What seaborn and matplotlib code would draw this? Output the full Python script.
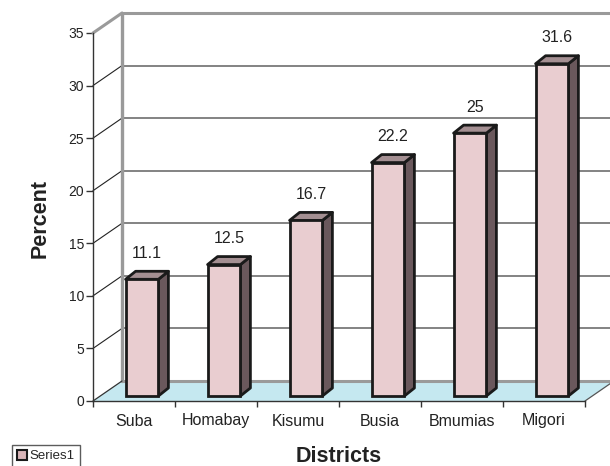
import numpy as np
import pandas as pd
import matplotlib
matplotlib.use("Agg")
import matplotlib.pyplot as plt
import matplotlib.transforms as mtransforms
from matplotlib.patches import Polygon, Patch
from matplotlib.lines import Line2D
import seaborn as sns

# ---- data ----
districts = ["Suba", "Homabay", "Kisumu", "Busia", "Bmumias", "Migori"]
percent = [11.1, 12.5, 16.7, 22.2, 25, 31.6]
yticks = [0, 5, 10, 15, 20, 25, 30, 35]
series_name = "Series1"
xlabel = "Districts"
ylabel = "Percent"

sns.set_theme(style="white")
plt.rcParams["font.family"] = ["Liberation Sans", "DejaVu Sans"]

W, H, DPI = 610, 466, 100
fig = plt.figure(figsize=(W / DPI, H / DPI), dpi=DPI)
# front plane of the 3D box
L, R, B, T = 93, 585, 401, 33
ax = fig.add_axes([L / W, 1 - B / H, (R - L) / W, (B - T) / H])

df = pd.DataFrame({"District": districts, "Percent": percent})
sns.barplot(data=df, x="District", y="Percent", ax=ax, width=0.40,
            color="#e9cdd0", edgecolor="#1a1a1a", linewidth=2.0,
            saturation=1, zorder=5)
bars = list(ax.patches)

ax.set_xlim(-0.5, len(districts) - 0.5)
ax.set_ylim(0, 35)

# pixel -> data conversions
sx = (R - L) / len(districts)          # px per category
sy = (B - T) / 35.0                     # px per unit
def dpx(px, py):
    return px / sx, py / sy

Dx, Dy = dpx(29, 20)       # back wall depth
ex, ey = dpx(10, 8)        # bar depth

shift = ax.transData + mtransforms.ScaledTranslation(8 / DPI, 5 / DPI, fig.dpi_scale_trans)

x0, x1 = -0.5, len(districts) - 0.5
grey = "#9a9a9a"

# floor
floor = Polygon([(x0, 0), (x1, 0), (x1 + Dx, Dy), (x0 + Dx, Dy)], closed=True,
                facecolor="#c5e8f0", edgecolor="none", zorder=1, clip_on=False)
ax.add_patch(floor)
ax.add_line(Line2D([x0 + Dx, x1 + Dx + 1], [Dy, Dy], color=grey, lw=2.2, zorder=1.5, clip_on=False))
ax.add_line(Line2D([x1, x1 + Dx], [0, Dy], color="#555555", lw=0.9, zorder=1.5, clip_on=False))
ax.add_line(Line2D([x0, x0 + Dx], [0, Dy], color="#333333", lw=0.9, zorder=1.5, clip_on=False))

# back wall and side wall
ax.add_line(Line2D([x0 + Dx, x0 + Dx], [Dy, 35 + Dy], color=grey, lw=2.4, zorder=1.2, clip_on=False))
ax.add_line(Line2D([x0 + Dx, x1 + Dx + 1], [35 + Dy, 35 + Dy], color=grey, lw=2.2, zorder=1.2, clip_on=False))
ax.add_line(Line2D([x0, x0 + Dx], [35, 35 + Dy], color=grey, lw=2.2, zorder=1.2, clip_on=False))
for v in yticks[1:-1]:
    ax.add_line(Line2D([x0 + Dx, x1 + Dx + 1], [v + Dy, v + Dy], color="#7a7a7a",
                       lw=1.3, zorder=1.1, clip_on=False))
    ax.add_line(Line2D([x0, x0 + Dx], [v, v + Dy], color="#222222", lw=0.8,
                       zorder=1.1, clip_on=False))

# 3D bars
for p, val in zip(bars, percent):
    p.set_transform(shift)
    p.set_clip_on(False)
    xa = p.get_x()
    xb = xa + p.get_width()
    h = p.get_height()
    side = Polygon([(xb, 0), (xb + ex, ey), (xb + ex, h + ey), (xb, h)], closed=True,
                   facecolor="#6a585c", edgecolor="#1a1a1a", lw=2.0,
                   transform=shift, zorder=4.9, clip_on=False, joinstyle="round")
    top = Polygon([(xa, h), (xb, h), (xb + ex, h + ey), (xa + ex, h + ey)], closed=True,
                  facecolor="#a48f92", edgecolor="#1a1a1a", lw=2.0,
                  transform=shift, zorder=4.9, clip_on=False, joinstyle="round")
    ax.add_patch(side)
    ax.add_patch(top)
    label = f"{val:g}"
    ax.annotate(label, xy=((xa + xb) / 2 + ex / 2, h), xycoords=shift,
                xytext=(0, 26), textcoords="offset pixels", ha="center", va="center",
                fontsize=11.5, color="#222222", zorder=6)

# axes styling
for s in ["top", "right"]:
    ax.spines[s].set_visible(False)
ax.spines["left"].set_color("#333333")
ax.spines["left"].set_linewidth(1.0)
ax.spines["bottom"].set_color("#333333")
ax.spines["bottom"].set_linewidth(1.0)
ax.patch.set_visible(False)

ax.set_yticks(yticks)
ax.set_yticklabels([str(t) for t in yticks])
ax.tick_params(axis="y", which="major", left=True, length=5, width=1, color="#333333",
               labelsize=10, labelcolor="#222222", pad=1.5)
ax.set_xticks(range(len(districts)))
ax.set_xticklabels(districts)
ax.set_xticks(np.arange(len(districts) + 1) - 0.5, minor=True)
ax.tick_params(axis="x", which="major", length=0, labelsize=11.5, labelcolor="#222222", pad=9)
ax.tick_params(axis="x", which="minor", bottom=True, length=4.5, width=1, color="#333333")
ax.set_xlabel("")
ax.set_ylabel("")

fig.text(339 / W, 1 - 457 / H, xlabel, ha="center", va="center", fontsize=15.5,
         fontweight="bold", color="#222222")
fig.text(40 / W, 1 - 218 / H, ylabel, ha="center", va="center", fontsize=15.5,
         fontweight="bold", color="#222222", rotation=90)

handle = Patch(facecolor="#d9b5b8", edgecolor="#1a1a1a", linewidth=1.5)
fig.legend([handle], [series_name], loc="upper left",
           bbox_to_anchor=(12 / W, 1 - 445 / H), fontsize=9.5, frameon=True,
           fancybox=False, edgecolor="#333333", borderpad=0.35, handlelength=0.8,
           handleheight=0.8, handletextpad=0.2, borderaxespad=0)

fig.savefig("out.png", dpi=DPI)
